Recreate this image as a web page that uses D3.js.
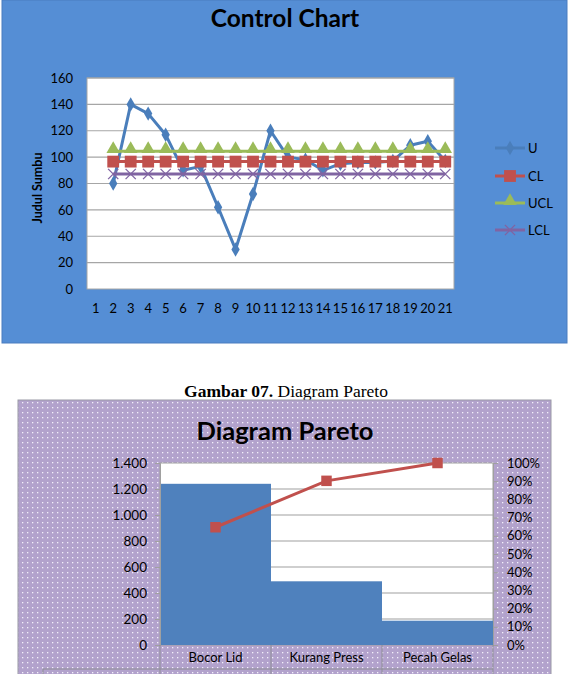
<!DOCTYPE html>
<html><head><meta charset="utf-8">
<script src="https://cdn.jsdelivr.net/npm/d3@7"></script>
<style>
body{margin:0;background:#fff}
svg{display:block}
text{font-family:Lato,"Open Sans",sans-serif}
</style>
</head><body>
<svg id="c" width="569" height="674"></svg>
<script>
// ---------- Control chart data ----------
const categories = ["1","2","3","4","5","6","7","8","9","10","11","12","13","14","15","16","17","18","19","20","21"];
const uValues   = [null,80,140,133,117,90,93,62,30,72,120,100,98,90,95,96,96,97,109,112,97];
const clValues  = [null,96.6,96.6,96.6,96.6,96.6,96.6,96.6,96.6,96.6,96.6,96.6,96.6,96.6,96.6,96.6,96.6,96.6,96.6,96.6,96.6];
const uclValues = [null,104.5,104.5,104.5,104.5,104.5,104.5,104.5,104.5,104.5,104.5,104.5,104.5,104.5,104.5,104.5,104.5,104.5,104.5,104.5,104.5];
const lclValues = [null,87.2,87.2,87.2,87.2,87.2,87.2,87.2,87.2,87.2,87.2,87.2,87.2,87.2,87.2,87.2,87.2,87.2,87.2,87.2,87.2];
const seriesNames = ["U","CL","UCL","LCL"];
const controlTicks = [0,20,40,60,80,100,120,140,160];

// ---------- Pareto data ----------
const paretoCategories = ["Bocor Lid","Kurang Press","Pecah Gelas"];
const paretoCounts = [1240,490,187];
const paretoCumPct = [0.647,0.902,1.0];
const leftTicks = [0,200,400,600,800,1000,1200,1400];
const rightTicks = [0,0.1,0.2,0.3,0.4,0.5,0.6,0.7,0.8,0.9,1.0];

const svg = d3.select("#c");

// ================= CONTROL CHART =================
const colors = {U:"#4a7ebb", CL:"#c0504d", UCL:"#9bbb59", LCL:"#8064a2"};
const g1 = svg.append("g");
g1.append("rect").attr("x",2).attr("y",0).attr("width",565).attr("height",343)
  .attr("fill","#558ed5").attr("stroke","#4a7dbf").attr("stroke-width",1);
g1.append("text").attr("x",285).attr("y",27).attr("text-anchor","middle")
  .attr("font-size",24.5).attr("font-weight","bold").attr("fill","#000").text("Control Chart");

const p1 = {l:87,r:454,t:78,b:289};
const x1 = d3.scaleBand().domain(categories).range([p1.l,p1.r]).padding(0);
const y1 = d3.scaleLinear().domain([0,160]).range([p1.b,p1.t]);
g1.append("rect").attr("x",p1.l).attr("y",p1.t).attr("width",p1.r-p1.l).attr("height",p1.b-p1.t)
  .attr("fill","#fff").attr("stroke","#a6a6a6");
g1.append("g").selectAll("line").data(controlTicks.slice(1)).join("line")
  .attr("x1",p1.l).attr("x2",p1.r).attr("y1",d=>y1(d)).attr("y2",d=>y1(d))
  .attr("stroke","#a6a6a6").attr("stroke-width",1.2);

const ax1 = g1.append("g").attr("transform",`translate(${p1.l},0)`)
  .call(d3.axisLeft(y1).tickValues(controlTicks).tickSize(0).tickPadding(14));
ax1.select(".domain").remove();
ax1.selectAll("text").attr("font-size",13).attr("fill","#000").attr("font-family","Lato,sans-serif");
const bx1 = g1.append("g").attr("transform",`translate(0,${p1.b})`)
  .call(d3.axisBottom(x1).tickSize(0).tickPadding(15));
bx1.select(".domain").remove();
bx1.selectAll("text").attr("font-size",13).attr("fill","#000").attr("font-family","Lato,sans-serif");

g1.append("text").attr("transform","translate(42,188) rotate(-90)").attr("text-anchor","middle")
  .attr("font-size",12.5).attr("font-weight","bold").attr("fill","#000").text("Judul Sumbu");

const cx = i => x1(categories[i]) + x1.bandwidth()/2;
const lineGen = arr => d3.line().defined(d=>d!=null).x((d,i)=>cx(i)).y(d=>y1(d))(arr);

const seriesData = [uValues, clValues, uclValues, lclValues];
const symbols = [d3.symbolDiamond, d3.symbolSquare, d3.symbolTriangle, d3.symbolX];
const symSizes = [60, 140, 80, 70];

seriesData.forEach((arr,k)=>{
  const name = seriesNames[k];
  const c = colors[name];
  g1.append("path").attr("d", lineGen(arr)).attr("fill","none").attr("stroke",c)
    .attr("stroke-width",3).attr("stroke-linejoin","round");
  const pts = arr.map((v,i)=>({v,i})).filter(d=>d.v!=null);
  const sym = d3.symbol().type(symbols[k]).size(symSizes[k]);
  g1.append("g").selectAll("path").data(pts).join("path")
    .attr("transform",d=>`translate(${cx(d.i)},${y1(d.v) + (k===2?-2:0)})`)
    .attr("d",sym())
    .attr("fill", k===3 ? "none" : c)
    .attr("stroke", c).attr("stroke-width", k===3 ? 1.3 : 0);
});

// legend
const legY = [148,176,203,230];
seriesNames.forEach((name,k)=>{
  const c = colors[name];
  const lg = g1.append("g");
  lg.append("line").attr("x1",495).attr("x2",525).attr("y1",legY[k]).attr("y2",legY[k])
    .attr("stroke",c).attr("stroke-width",3);
  lg.append("path").attr("transform",`translate(510,${legY[k] + (k===2?-2:0)})`)
    .attr("d",d3.symbol().type(symbols[k]).size(symSizes[k])())
    .attr("fill",k===3?"none":c).attr("stroke",c).attr("stroke-width",k===3?1.3:0);
  lg.append("text").attr("x",528).attr("y",legY[k]+4.5).attr("font-size",13).attr("fill","#000").text(name);
});

// ================= CAPTION =================
const cap = svg.append("text").attr("x",286).attr("y",397).attr("text-anchor","middle")
  .attr("font-size",17.5).attr("fill","#000")
  .style("font-family","'Liberation Serif','Times New Roman',serif");
cap.append("tspan").attr("font-weight","bold").style("font-family","'Liberation Serif',serif").text("Gambar 07.");
cap.append("tspan").style("font-family","'Liberation Serif',serif").text(" Diagram Pareto");

// ================= PARETO =================
const defs = svg.append("defs");
const pat = defs.append("pattern").attr("id","dots").attr("width",5).attr("height",5)
  .attr("patternUnits","userSpaceOnUse");
pat.append("rect").attr("width",5).attr("height",5).attr("fill","#b2a2cc");
pat.append("rect").attr("x",2).attr("y",2).attr("width",1.3).attr("height",1.3).attr("fill","#f3effa");

const g2 = svg.append("g");
g2.append("rect").attr("x",18).attr("y",400).attr("width",533).attr("height",290)
  .attr("fill","url(#dots)").attr("stroke","#9a9aa6");
g2.append("text").attr("x",285).attr("y",440).attr("text-anchor","middle")
  .attr("font-size",25.5).attr("font-weight","bold").attr("fill","#000").text("Diagram Pareto");

const p2 = {l:160,r:493,t:463,b:645};
const x2 = d3.scaleBand().domain(paretoCategories).range([p2.l,p2.r]).padding(0);
const y2 = d3.scaleLinear().domain([0,1400]).range([p2.b,p2.t]);
const y2r = d3.scaleLinear().domain([0,1]).range([p2.b,p2.t]);
const idFmt = d3.formatLocale({decimal:",",thousands:".",grouping:[3],currency:["",""]}).format(",");

g2.append("rect").attr("x",p2.l).attr("y",p2.t).attr("width",p2.r-p2.l).attr("height",p2.b-p2.t)
  .attr("fill","#fff").attr("stroke","#a0a0a0");
g2.append("g").selectAll("line").data(leftTicks.slice(1,-1)).join("line")
  .attr("x1",p2.l).attr("x2",p2.r).attr("y1",d=>y2(d)).attr("y2",d=>y2(d))
  .attr("stroke","#a0a0a0").attr("stroke-width",1.2);

g2.append("g").selectAll("rect").data(paretoCounts).join("rect")
  .attr("x",(d,i)=>x2(paretoCategories[i])).attr("width",x2.bandwidth())
  .attr("y",d=>y2(d)).attr("height",d=>p2.b-y2(d)).attr("fill","#4f81bd");

const la = g2.append("g").attr("transform",`translate(${p2.l},0)`)
  .call(d3.axisLeft(y2).tickValues(leftTicks).tickFormat(idFmt).tickSize(5).tickPadding(8));
la.select(".domain").attr("stroke","#a0a0a0");
la.selectAll("line").attr("stroke","#a0a0a0");
la.selectAll("text").attr("font-size",13.5).attr("fill","#000").attr("font-family","Lato,sans-serif");

const ra = g2.append("g").attr("transform",`translate(${p2.r},0)`)
  .call(d3.axisRight(y2r).tickValues(rightTicks).tickFormat(d3.format(".0%")).tickSize(5).tickPadding(9));
ra.select(".domain").attr("stroke","#a0a0a0");
ra.selectAll("line").attr("stroke","#a0a0a0");
ra.selectAll("text").attr("font-size",13).attr("fill","#000").attr("font-family","Lato,sans-serif");

// data-table style category cells
const bounds = paretoCategories.map(c=>x2(c)).concat([p2.r]);
g2.append("g").selectAll("line").data(bounds).join("line")
  .attr("x1",d=>d).attr("x2",d=>d).attr("y1",p2.b).attr("y2",674)
  .attr("stroke","#8e8e96");
g2.append("line").attr("x1",43).attr("x2",p2.r).attr("y1",669).attr("y2",669).attr("stroke","#8e8e96");
g2.append("line").attr("x1",43).attr("x2",43).attr("y1",669).attr("y2",674).attr("stroke","#8e8e96");
g2.append("g").selectAll("text").data(paretoCategories).join("text")
  .attr("x",d=>x2(d)+x2.bandwidth()/2).attr("y",662).attr("text-anchor","middle")
  .attr("font-size",13).attr("fill","#000").text(d=>d);

// cumulative line
const xc = i => x2(paretoCategories[i]) + x2.bandwidth()/2;
g2.append("path").attr("d", d3.line().x((d,i)=>xc(i)).y(d=>y2r(d))(paretoCumPct))
  .attr("fill","none").attr("stroke","#c0504d").attr("stroke-width",3);
g2.append("g").selectAll("path").data(paretoCumPct).join("path")
  .attr("transform",(d,i)=>`translate(${xc(i)},${y2r(d)})`)
  .attr("d",d3.symbol().type(d3.symbolSquare).size(110)()).attr("fill","#c0504d");
</script>
</body></html>
